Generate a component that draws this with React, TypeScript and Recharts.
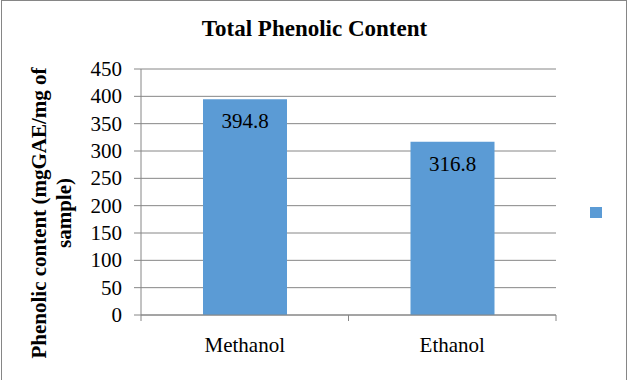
import { BarChart, Bar, XAxis, YAxis, CartesianGrid, LabelList, Legend } from "recharts";

const categories = ["Methanol", "Ethanol"];
const phenolicValues = [394.8, 316.8];
const yTicks = [0, 50, 100, 150, 200, 250, 300, 350, 400, 450];

const data = categories.map((name, i) => ({ name, value: phenolicValues[i] }));

const FONT = '"Liberation Serif", "Times New Roman", serif';
const BAR_COLOR = "#5B9BD5";
const GRID = "#868686";

const XTick = (props: any) => {
  const { x, y, payload, index } = props;
  const half = payload?.offset ?? 103.75;
  const isLast = index === categories.length - 1;
  return (
    <g>
      <line x1={x - half} x2={x - half} y1={y - 6} y2={y} stroke={GRID} />
      {isLast && <line x1={x + half} x2={x + half} y1={y - 6} y2={y} stroke={GRID} />}
      <text x={x} y={y} dy={31} textAnchor="middle" fill="#000" fontSize={21} style={{ fontFamily: FONT }}>
        {payload.value}
      </text>
    </g>
  );
};

const YTick = (props: any) => {
  const { x, y, payload } = props;
  return (
    <text x={x} y={y} dy={7} textAnchor="end" fill="#000" fontSize={21} style={{ fontFamily: FONT }}>
      {payload.value}
    </text>
  );
};

const YLabel = () => (
  <g fontSize={21} fontWeight="bold" fill="#000" style={{ fontFamily: FONT }}>
    <text x={39} y={213} transform="rotate(-90 39 213)" textAnchor="middle" dominantBaseline="central">
      Phenolic content (mgGAE/mg of
    </text>
    <text x={64} y={213} transform="rotate(-90 64 213)" textAnchor="middle" dominantBaseline="central">
      sample)
    </text>
  </g>
);

const LegendSquare = () => (
  <div style={{ width: 12, height: 11, background: BAR_COLOR }} />
);

export default function App() {
  return (
    <div
      style={{
        position: "fixed",
        left: 0,
        top: 0,
        width: 629,
        height: 380,
        background: "#fff",
        fontFamily: FONT,
      }}
    >
      <div
        style={{
          position: "absolute",
          left: 1,
          top: 0,
          width: 626,
          height: 380,
          borderTop: "1px solid #868686",
          borderLeft: "1px solid #868686",
          borderRight: "1px solid #868686",
          boxSizing: "border-box",
        }}
      />
      <div
        style={{
          position: "absolute",
          left: 0,
          width: 629,
          top: 15,
          textAlign: "center",
          fontFamily: FONT,
          fontWeight: "bold",
          fontSize: 23,
          lineHeight: "28px",
          color: "#000",
        }}
      >
        Total Phenolic Content
      </div>
      <BarChart
        width={629}
        height={380}
        data={data}
        margin={{ top: 69, right: 73, bottom: 25, left: 0 }}
        style={{ position: "absolute", left: 0, top: 0, fontFamily: FONT }}
      >
        <CartesianGrid vertical={false} stroke={GRID} />
        <XAxis
          dataKey="name"
          height={40}
          axisLine={{ stroke: GRID }}
          tickLine={false}
          tickSize={6}
          tickMargin={0}
          tick={<XTick />}
          interval={0}
        />
        <YAxis
          width={141}
          domain={[0, 450]}
          ticks={yTicks}
          interval={0}
          axisLine={{ stroke: GRID }}
          tickLine={{ stroke: GRID }}
          tickSize={7}
          tickMargin={12}
          tick={<YTick />}
          label={{ content: <YLabel /> }}
        />
        <Legend
          layout="horizontal"
          verticalAlign="middle"
          align="center"
          content={<LegendSquare />}
          wrapperStyle={{ left: 590, top: 207, width: 12, height: 11 }}
        />
        <Bar dataKey="value" fill={BAR_COLOR} barSize={84} isAnimationActive={false}>
          <LabelList
            dataKey="value"
            position="insideTop"
            offset={14}
            fill="#000"
            fontSize={21}
            style={{ fontFamily: FONT }}
          />
        </Bar>
      </BarChart>
    </div>
  );
}
